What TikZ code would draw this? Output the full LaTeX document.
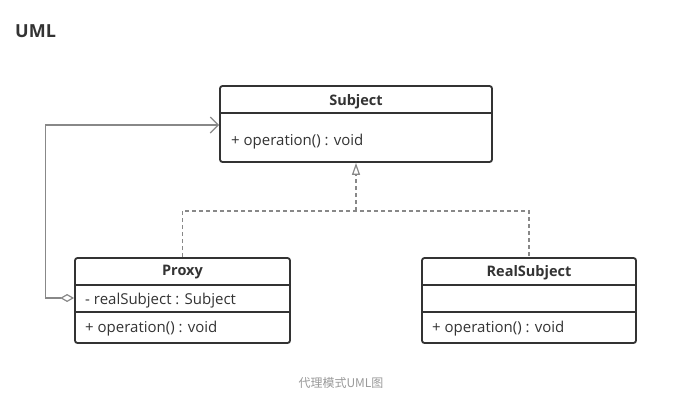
\documentclass[tikz,border=0pt]{standalone}
\usepackage{fontspec}
\setmainfont{Open Sans}
\newfontfamily\cjk{Noto Sans CJK SC}
\usetikzlibrary{arrows.meta}
\definecolor{boxline}{HTML}{333333}
\definecolor{conn}{HTML}{888888}
\definecolor{capt}{HTML}{999999}
\begin{document}
\begin{tikzpicture}[x=1pt,y=-1pt,
  classbox/.style={draw=boxline,line width=1.8pt,rounded corners=2.5pt,inner sep=0pt},
  sep/.style={draw=boxline,line width=1.4pt},
  title/.style={font=\fontsize{14.5}{16}\selectfont\bfseries,text=boxline},
  member/.style={font=\fontsize{15}{17}\selectfont,text=boxline,anchor=west,inner sep=0pt},
  conn/.style={draw=conn,line width=1.2pt}]
\useasboundingbox (0,0) rectangle (689,400);
\node[font=\fontsize{18}{20}\selectfont\bfseries,text=boxline,anchor=west,inner sep=0pt] (uml) at (15,31) {UML};
% Subject
\node[classbox,minimum width=272,minimum height=76] (subject) at (356,124) {};
\draw[sep] (subject.west |- 0,113) -- (subject.east |- 0,113);
\node[title] (subjectt) at (356,101.5) {Subject};
\node[member] (subjectop) at (231,141.5) {+ operation() : void};
% Proxy
\node[classbox,minimum width=215,minimum height=85] (proxy) at (182.5,300.5) {};
\draw[sep] (proxy.west |- 0,285) -- (proxy.east |- 0,285);
\draw[sep] (proxy.west |- 0,312) -- (proxy.east |- 0,312);
\node[title] (proxyt) at (182.5,272.5) {Proxy};
\node[member] (proxyattr) at (85,300.5) {- realSubject : Subject};
\node[member] (proxyop) at (85,328.5) {+ operation() : void};
% RealSubject
\node[classbox,minimum width=214,minimum height=85] (real) at (529,300.5) {};
\draw[sep] (real.west |- 0,285) -- (real.east |- 0,285);
\draw[sep] (real.west |- 0,312) -- (real.east |- 0,312);
\node[title] (realt) at (529,272.5) {RealSubject};
\node[member] (realop) at (432,328.5) {+ operation() : void};
% generalization
\coordinate (j) at (356,211);
\draw[conn,dashed,dash pattern=on 4pt off 3pt] (proxy.north) |- (j) -| (real.north);
\draw[conn,dashed,dash pattern=on 4pt off 3pt,-{Triangle[open,length=12pt,width=8pt]}] (j) -- (subject.south);
% aggregation
\coordinate (pa) at (proxy.west |- 0,298);
\coordinate (sa) at (subject.west |- 0,125);
\draw[conn,{Diamond[open,length=14pt,width=8pt]}-{Straight Barb[length=8pt,width=16pt]}] (pa) -- ++(-29,0) |- (sa);
% caption
\node[font=\cjk\fontsize{12}{14}\selectfont,text=capt] (caption) at (341,383) {代理模式UML图};
\end{tikzpicture}
\end{document}
